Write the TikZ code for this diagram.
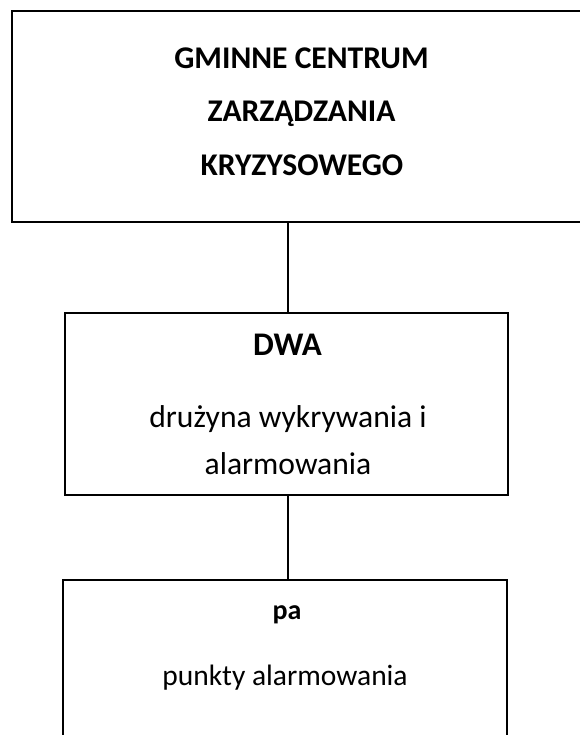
\documentclass[tikz,border=0pt]{standalone}
\usepackage{fontspec}
\setmainfont{Carlito}
\begin{document}
\begin{tikzpicture}[x=1pt,y=1pt,
  box/.style={draw,line width=1.8pt,inner sep=0pt},
  title/.style={anchor=base,inner sep=0pt,font=\fontsize{31.6}{36}\selectfont\bfseries},
  sub/.style={anchor=base,inner sep=0pt,font=\fontsize{33}{38}\selectfont\bfseries},
  txt/.style={anchor=base,inner sep=0pt,font=\fontsize{31.6}{36}\selectfont},
  conn/.style={line width=1.8pt}]
\useasboundingbox (0,0) rectangle (579,-735);
\fill[white] (0,0) rectangle (579,-735);
% boxes
\node[box,minimum width=578pt,minimum height=211pt] (b1) at (301,-116.5) {};
\node[box,minimum width=443pt,minimum height=182pt] (b2) at (286.5,-404) {};
\node[box,minimum width=444pt,minimum height=200pt] (b3) at (285,-680) {};
% texts box 1
\node[title] (t1) at (301.5,-69) {GMINNE CENTRUM};
\node[title] (t2) at (301.5,-122) {ZARZĄDZANIA};
\node[title] (t3) at (302,-176) {KRYZYSOWEGO};
% texts box 2
\node[sub] (t4) at (287.5,-355) {DWA};
\node[txt] (t5) at (288,-427) {drużyna wykrywania i};
\node[txt] (t6) at (288,-474) {alarmowania};
% texts box 3
\node[sub,font=\fontsize{28}{32}\selectfont\bfseries] (t7) at (287,-619) {pa};
\node[txt,font=\fontsize{29.5}{34}\selectfont] (t8) at (285,-685) {punkty alarmowania};
% connectors
\draw[conn] (b2.north -| 288,0) -- (b1.south -| 288,0);
\draw[conn] (b3.north -| 288,0) -- (b2.south -| 288,0);
\end{tikzpicture}
\end{document}
